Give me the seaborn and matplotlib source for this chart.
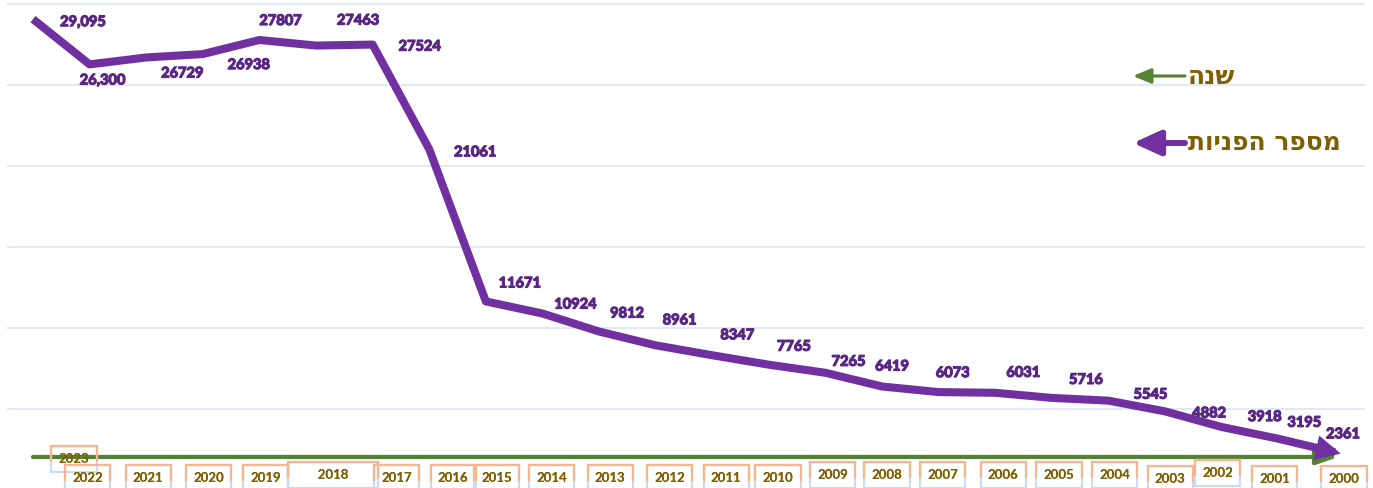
import matplotlib
matplotlib.use("Agg")
import matplotlib.pyplot as plt
import matplotlib.patheffects as pe
import seaborn as sns
from matplotlib.transforms import Bbox, TransformedBbox

# ---- data -----------------------------------------------------------------
years = [2023, 2022, 2021, 2020, 2019, 2018, 2017, 2016, 2015, 2014, 2013, 2012,
         2011, 2010, 2009, 2008, 2007, 2006, 2005, 2004, 2003, 2002, 2001, 2000]
referrals = [29095, 26300, 26729, 26938, 27807, 27463, 27524, 21061, 11671, 10924,
             9812, 8961, 8347, 7765, 7265, 6419, 6073, 6031, 5716, 5545, 4882,
             3918, 3195, 2361]
value_labels = ["29,095", "26,300", "26729", "26938", "27807", "27463", "27524",
                "21061", "11671", "10924", "9812", "8961", "8347", "7765", "7265",
                "6419", "6073", "6031", "5716", "5545", "4882", "3918", "3195", "2361"]
year_labels = [str(y) for y in years]
legend_year = "שנה"
legend_count = "מספר הפניות"

# ---- layout helpers (pixel offsets of the annotations) ---------------------
value_offsets = [(50, -3), (13, -16), (36, -16), (46, -11), (21, 19), (42, 25),
                 (47, -2), (46, -3), (34, 18), (33, 9), (28, 18), (24, 25),
                 (25, 20), (25, 18), (23, 11), (10, 20), (14, 19), (28, 20),
                 (34, 18), (42, 6), (44, -2), (43, 10), (26, 16), (8, 18)]
# horizontal offset from the year position, vertical position from figure bottom
year_offsets = [(41, 29), (-2, 10), (2, 10), (6, 10), (6, 10), (17, 13), (24, 10),
                (24, 10), (11, 10), (9, 10), (11, 10), (14, 10), (14, 10), (9, 10),
                (7, 13), (5, 13), (4, 13), (8, 13), (7, 13), (6, 13), (5, 9),
                (-4, 15), (-4, 9), (9, 9)]
year_pad_spaces = [0, 0, 0, 0, 0, 7, 0, 0, 0, 0, 0, 0,
                   0, 0, 0, 0, 0, 0, 0, 0, 0, 0, 0, 0]

PURPLE = "#7030a0"
VALUE_COLOR = "#5a2784"
GREEN = "#548235"
OLIVE = "#7f6000"
GRID = "#dce6f2"
BOX_TOP = "#f7b58c"
BOX_BOTTOM = "#c9dcf3"
BASELINE = 2070

W, H = 1373, 488

sns.set_theme(style="white")
plt.rcParams["font.family"] = ["Lato", "DejaVu Sans"]

fig = plt.figure(figsize=(W / 100, H / 100), dpi=100)
ax = fig.add_axes([7 / W, -2.5 / H, 1358 / W, 490.9 / H])

sns.lineplot(x=years, y=referrals, color=PURPLE, linewidth=5.8, ax=ax,
             sort=False, solid_capstyle="butt", solid_joinstyle="round", zorder=4)

ax.set_xlim(2023.459, 1999.470)
ax.set_ylim(0, 30300)
ax.set_yticks(range(5000, 30001, 5000))
ax.grid(axis="y", color=GRID, linewidth=1.2)
ax.grid(axis="x", visible=False)
ax.tick_params(left=False, bottom=False, labelleft=False, labelbottom=False)
for s in ax.spines.values():
    s.set_visible(False)
ax.set_xlabel("")
ax.set_ylabel("")

# arrow head at the end of the series
tip = (years[-1] + 0.1 * (years[-1] - years[-2]),
       referrals[-1] + 0.1 * (referrals[-1] - referrals[-2]))
ax.annotate("", xy=tip, xytext=(years[-2], referrals[-2]),
            arrowprops=dict(arrowstyle="-|>,head_length=1.0,head_width=0.5",
                            mutation_scale=18, color=PURPLE, lw=0,
                            shrinkA=0, shrinkB=0), zorder=5)

# green year axis with arrow
ax.annotate("", xy=(years[-1] - 0.06, BASELINE), xytext=(years[0], BASELINE),
            arrowprops=dict(arrowstyle="-|>,head_length=1.3,head_width=0.45",
                            mutation_scale=10, color=GREEN, lw=3,
                            capstyle="round", shrinkA=0, shrinkB=0), zorder=3)

# value labels (slightly stroked for a heavier look)
heavy = [pe.withStroke(linewidth=0.9, foreground=VALUE_COLOR)]
for yr, val, lab, (dx, dy) in zip(years, referrals, value_labels, value_offsets):
    ax.annotate(lab, (yr, val), xytext=(dx, dy), textcoords="offset pixels",
                ha="center", va="center", fontsize=10.5, fontweight="bold",
                color=VALUE_COLOR, zorder=6, path_effects=heavy)

# year labels in boxes: blue frame, orange on the upper part
for yr, lab, (dx, ypos), sp in zip(years, year_labels, year_offsets, year_pad_spaces):
    text = " " * sp + lab + " " * sp
    for edge, clipped in ((BOX_BOTTOM, False), (BOX_TOP, True)):
        t = ax.annotate(text, (yr, 0), xycoords=("data", "figure pixels"),
                        xytext=(dx, ypos), textcoords="offset pixels",
                        ha="center", va="center", fontsize=9.5, fontweight="bold",
                        color=OLIVE, annotation_clip=False, zorder=7,
                        bbox=dict(boxstyle="square,pad=0.55", fc="none",
                                  ec=edge, lw=1.6))
        if clipped:
            t.set_clip_box(TransformedBbox(
                Bbox.from_extents(0, (ypos - 3) / H, 1, 1), fig.transFigure))
            t.set_clip_on(True)

# legend
ax.annotate("", xy=(1133, H - 76), xycoords="figure pixels",
            xytext=(1185, H - 76), textcoords="figure pixels",
            arrowprops=dict(arrowstyle="-|>,head_length=1.2,head_width=0.5",
                            mutation_scale=9, color=GREEN, lw=2.2,
                            shrinkA=0, shrinkB=0))
ax.annotate("", xy=(1133, H - 143), xycoords="figure pixels",
            xytext=(1185, H - 143), textcoords="figure pixels",
            arrowprops=dict(arrowstyle="-|>,head_length=1.1,head_width=0.5",
                            mutation_scale=15, color=PURPLE, lw=4.3,
                            shrinkA=0, shrinkB=0))
fig.text(1188 / W, (H - 77) / H, legend_year[::-1], ha="left", va="center",
         fontsize=18, fontweight="bold", color=OLIVE, family=["DejaVu Sans"])
fig.text(1188 / W, (H - 143) / H, legend_count[::-1], ha="left", va="center",
         fontsize=18, fontweight="bold", color=OLIVE, family=["DejaVu Sans"])

fig.savefig("out.png", dpi=100)
